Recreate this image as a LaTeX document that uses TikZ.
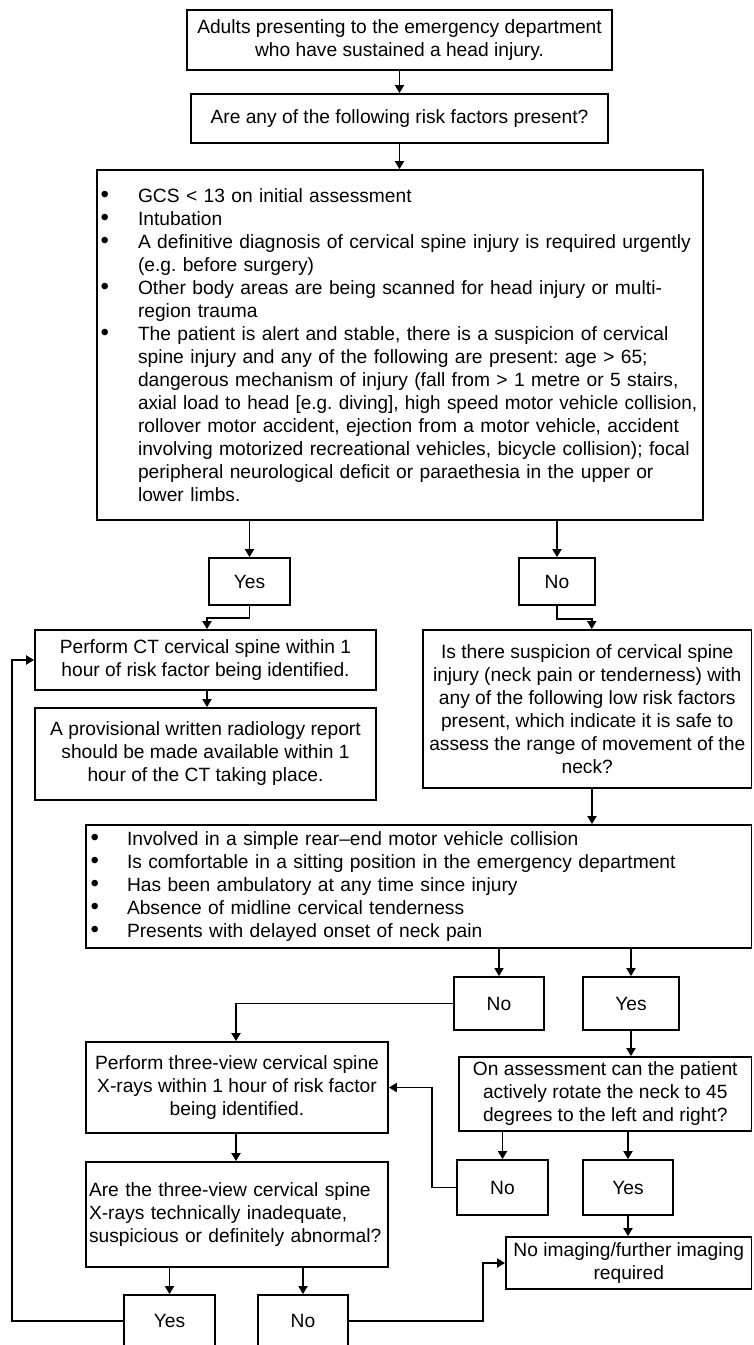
\documentclass[tikz,border=0pt]{standalone}
\usepackage{fontspec}
\setmainfont{Liberation Sans}
\usetikzlibrary{arrows.meta}
\frenchspacing
\hyphenpenalty=10000
\exhyphenpenalty=10000
\newcommand{\fs}{\fontsize{19.2pt}{23pt}\selectfont}
\newcommand{\bitem}[2]{\hangindent=#1\hangafter=1\noindent\makebox[#1][l]{\hspace{0.5pt}\scalebox{1.25}{\textbullet}}#2\par}
\begin{document}
\begin{tikzpicture}[x=1pt,y=-1pt,
  box/.style={draw, line width=1.8pt, inner sep=0pt, align=center, font=\fs},
  arr/.style={line width=1.8pt, -{Triangle[length=8pt,width=9pt]}}]
\useasboundingbox (0,0) rectangle (753,1345);
\fill[white] (0,0) rectangle (753,1345);
\clip (0,0) rectangle (753,1345);

\node[box, minimum width=425pt, minimum height=60pt] (b1) at (399.5,40) {Adults presenting to the emergency department\\who have sustained a head injury.};
\node[box, minimum width=417pt, minimum height=49pt] (b2) at (399.5,118.5) {Are any of the following risk factors present?};
\node[box, text width=600pt, inner xsep=3pt, align=left, minimum height=350pt] (b3) at (400,345) {%
\bitem{38pt}{GCS < 13 on initial assessment}%
\bitem{38pt}{Intubation}%
\bitem{38pt}{A definitive diagnosis of cervical spine injury is required urgently\newline (e.g. before surgery)}%
\bitem{38pt}{Other body areas are being scanned for head injury or multi-\newline region trauma}%
\bitem{38pt}{The patient is alert and stable, there is a suspicion of cervical\newline spine injury and any of the following are present: age > 65;\newline dangerous mechanism of injury (fall from > 1 metre or 5 stairs,\newline \scalebox{0.985}[1]{axial load to head [e.g. diving], high speed motor vehicle collision,}\newline rollover motor accident, ejection from a motor vehicle, accident\newline involving motorized recreational vehicles, bicycle collision); focal\newline peripheral neurological deficit or paraethesia in the upper or\newline lower limbs.}};
\node[box, minimum width=81pt, minimum height=47pt] (yes1) at (249.5,581.5) {Yes};
\node[box, minimum width=76pt, minimum height=47pt] (no1) at (557,581.5) {No};
\node[box, minimum width=341pt, minimum height=60pt] (ct) at (205.5,660) {Perform CT cervical spine within 1\\hour of risk factor being identified.};
\node[box, minimum width=341pt, minimum height=92pt] (prov) at (205.5,754) {A provisional written radiology report\\should be made available within 1\\hour of the CT taking place.};
\node[box, minimum width=328.5pt, minimum height=158pt] (susp) at (587.25,709) {Is there suspicion of cervical spine\\injury (neck pain or tenderness) with\\any of the following low risk factors\\present, which indicate it is safe to\\assess the range of movement of the\\neck?};
\node[box, text width=657.5pt, inner xsep=4pt, align=left, minimum height=123pt] (b4) at (418.75,886.5) {%
\bitem{37pt}{Involved in a simple rear–end motor vehicle collision}%
\bitem{37pt}{Is comfortable in a sitting position in the emergency department}%
\bitem{37pt}{Has been ambulatory at any time since injury}%
\bitem{37pt}{Absence of midline cervical tenderness}%
\bitem{37pt}{Presents with delayed onset of neck pain}};
\node[box, minimum width=90pt, minimum height=53pt] (no2) at (499,1003.5) {No};
\node[box, minimum width=96pt, minimum height=53pt] (yes2) at (631,1003.5) {Yes};
\node[box, minimum width=302pt, minimum height=91pt] (tv) at (237,1087.5) {Perform three-view cervical spine\\X-rays within 1 hour of risk factor\\being identified.};
\node[box, minimum width=292.5pt, minimum height=74pt] (rot) at (605.25,1094) {On assessment can the patient\\actively rotate the neck to 45\\degrees to the left and right?};
\node[box, text width=296pt, inner xsep=3pt, align=left, minimum height=105pt] (are) at (237,1214.5) {Are the three-view cervical spine\\X-rays technically inadequate,\\suspicious or definitely abnormal?};
\node[box, minimum width=91pt, minimum height=55pt] (no3) at (502.5,1187.5) {No};
\node[box, minimum width=90pt, minimum height=55pt] (yes3) at (628,1187.5) {Yes};
\node[box, minimum width=245.5pt, minimum height=52pt] (noimg) at (628.75,1263) {No imaging/further imaging\\required};
\node[box, minimum width=91pt, minimum height=52pt] (yes4) at (169.5,1321) {Yes};
\node[box, minimum width=90pt, minimum height=52pt] (no4) at (303,1321) {No};

\draw[arr] (b1) -- (b2);
\draw[arr] (b2.south) -- (b2.south |- b3.north);
\draw[arr] (b3.south -| yes1) -- (yes1.north);
\draw[arr] (b3.south -| no1) -- (no1.north);
\draw[arr] (yes1.south) -- ++(0,12) -| ([xshift=1.5pt]ct.north);
\draw[arr] (no1.south) -- ++(0,13) -| ([xshift=4.5pt]susp.north);
\draw[arr] ([xshift=1.5pt]ct.south) -- ([xshift=1.5pt]prov.north);
\draw[arr] ([xshift=4.75pt]susp.south) -- ([xshift=4.75pt]susp.south |- b4.north);
\draw[arr] (b4.south -| no2) -- (no2.north);
\draw[arr] (b4.south -| yes2) -- (yes2.north);
\draw[arr] (no2.west) -| ([xshift=-1pt]tv.north);
\draw[arr] (yes2.south) -- (yes2.south |- rot.north);
\draw[arr] ([xshift=-1pt]tv.south) -- ([xshift=-1pt]are.north);
\draw[arr] (rot.south -| no3) -- (no3.north);
\draw[arr] (rot.south -| yes3) -- (yes3.north);
\draw[arr] (no3.west) -- ++(-24,0) |- (tv.east);
\draw[arr] (yes3.south) -- (yes3.south |- noimg.north);
\draw[arr] (are.south -| yes4) -- (yes4.north);
\draw[arr] (are.south -| no4) -- (no4.north);
\draw[arr] (no4.east) -- ++(134,0) |- (noimg.west);
\draw[arr] (yes4.west) -- ++(-111,0) |- (ct.west);
\end{tikzpicture}
\end{document}
